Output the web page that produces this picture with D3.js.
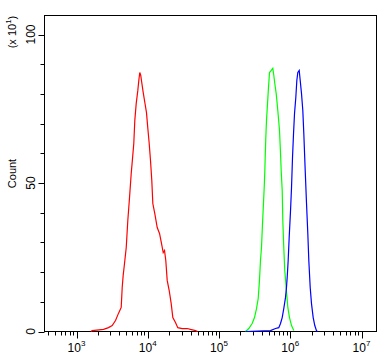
<!DOCTYPE html>
<html>
<head>
<meta charset="utf-8">
<script src="https://cdnjs.cloudflare.com/ajax/libs/d3/7.8.5/d3.min.js"></script>
<style>
  body { margin: 0; background: #fff; }
  text { font-family: "Liberation Sans", Arial, sans-serif; fill: #000; }
</style>
</head>
<body>
<div class="container"></div>
<script>
// fluorescence intensity (x) and count in units of 10^1 (y)
var redX = [1600, 1660, 2400, 2810, 3170, 3530, 3880, 4240, 4380, 4520, 4720, 4990, 5250, 5550, 5860, 6110, 6370, 6580, 6890, 7250, 7490, 7730, 7980, 8160, 8630, 9100, 9600, 10000, 10480, 10930, 11400, 11780, 12560, 13580, 14630, 15610, 16490, 17190, 17920, 18750, 20000, 21340, 22490, 24500, 26400, 30460, 35800, 39800, 46800, 50000];
var redY = [0, 0.3, 0.7, 1.3, 2.0, 3.7, 6.1, 8.1, 14.8, 18.9, 22.9, 28.3, 37.4, 45.1, 53.2, 58.2, 63.3, 71.0, 76.8, 81.1, 84.5, 87.2, 86.2, 84.5, 80.5, 77.1, 73.7, 68.7, 63.3, 57.6, 50.8, 43.1, 39.7, 35.0, 33.0, 29.6, 26.6, 27.3, 23.9, 17.2, 13.8, 9.4, 4.7, 3.0, 1.3, 1.0, 1.0, 0.7, 0.3, 0];

var greenX = [235000, 262000, 292000, 315000, 336000, 355000, 370000, 382000, 395000, 408000, 421000, 431000, 440000, 445000, 454000, 464000, 480000, 495000, 512000, 541000, 569000, 588000, 607000, 635000, 669000, 707000, 730000, 746000, 771000, 786000, 811000, 838000, 877000, 925000, 976000, 1042000, 1122000];
var greenY = [0, 1.0, 2.7, 4.7, 7.7, 11.1, 17.2, 23.9, 28.3, 36.4, 43.1, 48.5, 54.2, 58.6, 65.3, 71.0, 76.8, 82.2, 87.2, 87.9, 88.6, 86.2, 83.5, 80.1, 74.4, 67.7, 60.0, 54.2, 47.5, 37.4, 28.3, 20.5, 14.8, 8.1, 4.7, 2.0, 0.3];

var blueX = [235000, 528000, 621000, 690000, 730000, 771000, 811000, 857000, 885000, 906000, 935000, 966000, 1009000, 1042000, 1076000, 1112000, 1148000, 1197000, 1237000, 1277000, 1336000, 1380000, 1439000, 1501000, 1550000, 1622000, 1692000, 1764000, 1822000, 1906000, 1987000, 2099000, 2210000, 2333000, 2400000];
var blueY = [0, 0.3, 1.0, 1.3, 2.7, 4.7, 7.7, 11.4, 14.8, 18.2, 23.9, 31.6, 40.7, 48.5, 58.6, 66.7, 73.4, 78.8, 84.5, 87.2, 87.9, 84.5, 80.1, 74.4, 66.7, 54.2, 43.1, 33.0, 23.9, 14.8, 9.4, 4.7, 2.0, 0.3, 0];

var xExponents = [3, 4, 5, 6, 7];
var yTicks = [0, 10, 20, 30, 40, 50, 60, 70, 80, 90, 100];
var yLabels = [0, 50, 100];

function draw() {
  var width = 392, height = 360;
  var x0 = 44.5, x1 = 376.5, y0 = 15.5, y1 = 331.5;

  var svg = d3.select(".container").append("svg")
    .attr("width", width)
    .attr("height", height);

  // log scale, 10^3 .. 10^7 land on the labelled ticks
  var x = d3.scaleLog().domain([1e3, 1e7]).range([76.5, 361.5]);
  var y = d3.scaleLinear().domain([0, 106.4]).range([y1, y0]);

  var line = d3.line()
    .x(function(d) { return x(d[0]); })
    .y(function(d) { return y(d[1]); });

  // frame
  svg.append("rect")
    .attr("x", x0).attr("y", y0)
    .attr("width", x1 - x0).attr("height", y1 - y0)
    .attr("fill", "none").attr("stroke", "#000").attr("stroke-width", 1);

  // y ticks
  svg.selectAll(".ytick").data(yTicks).enter().append("line")
    .attr("x1", function(d) { return yLabels.indexOf(d) > -1 ? x0 - 6 : x0 - 4; })
    .attr("x2", x0)
    .attr("y1", function(d) { return Math.round(y(d)) + 0.5; })
    .attr("y2", function(d) { return Math.round(y(d)) + 0.5; })
    .attr("stroke", "#000");

  svg.selectAll(".ylab").data(yLabels).enter().append("text")
    .attr("transform", function(d) { return "translate(35," + y(d) + ") rotate(-90)"; })
    .attr("text-anchor", "middle")
    .style("font-size", "12px")
    .text(function(d) { return d; });

  // x ticks: powers of ten plus the 2..9 minors in between
  var xTicks = [];
  for (var e = 2; e <= 7; e++) {
    for (var m = 1; m <= 9; m++) {
      var v = m * Math.pow(10, e);
      if (x(v) >= x0 && x(v) <= x1) xTicks.push({v: v, major: m === 1});
    }
  }
  svg.selectAll(".xtick").data(xTicks).enter().append("line")
    .attr("x1", function(d) { return Math.round(x(d.v)) + 0.5; })
    .attr("x2", function(d) { return Math.round(x(d.v)) + 0.5; })
    .attr("y1", y1)
    .attr("y2", function(d) { return d.major ? y1 + 7 : y1 + 4; })
    .attr("stroke", "#000");

  var xl = svg.selectAll(".xlab").data(xExponents).enter().append("text")
    .attr("x", function(d) { return x(Math.pow(10, d)); })
    .attr("y", 352)
    .attr("text-anchor", "middle")
    .style("font-size", "12px");
  xl.append("tspan").text("10");
  xl.append("tspan").attr("dy", -6).style("font-size", "8px").text(function(d) { return d; });

  // axis titles
  svg.append("text")
    .attr("transform", "translate(16," + (y0 + y1) / 2 + ") rotate(-90)")
    .attr("text-anchor", "middle")
    .style("font-size", "11px")
    .text("Count");

  var mult = svg.append("text")
    .attr("transform", "translate(16,32) rotate(-90)")
    .attr("text-anchor", "middle")
    .style("font-size", "11px");
  mult.append("tspan").text("(x 10");
  mult.append("tspan").attr("dy", -5).style("font-size", "8px").text("1");
  mult.append("tspan").attr("dy", 5).text(")");

  // histograms
  var series = [
    {xs: redX, ys: redY, color: "#ff0000"},
    {xs: greenX, ys: greenY, color: "#00ff00"},
    {xs: blueX, ys: blueY, color: "#0000ff"}
  ];
  series.forEach(function(s) {
    svg.append("path")
      .datum(d3.zip(s.xs, s.ys))
      .attr("d", line)
      .attr("fill", "none")
      .attr("stroke", s.color)
      .attr("stroke-width", 1.2);
  });
}

draw();
</script>
</body>
</html>
